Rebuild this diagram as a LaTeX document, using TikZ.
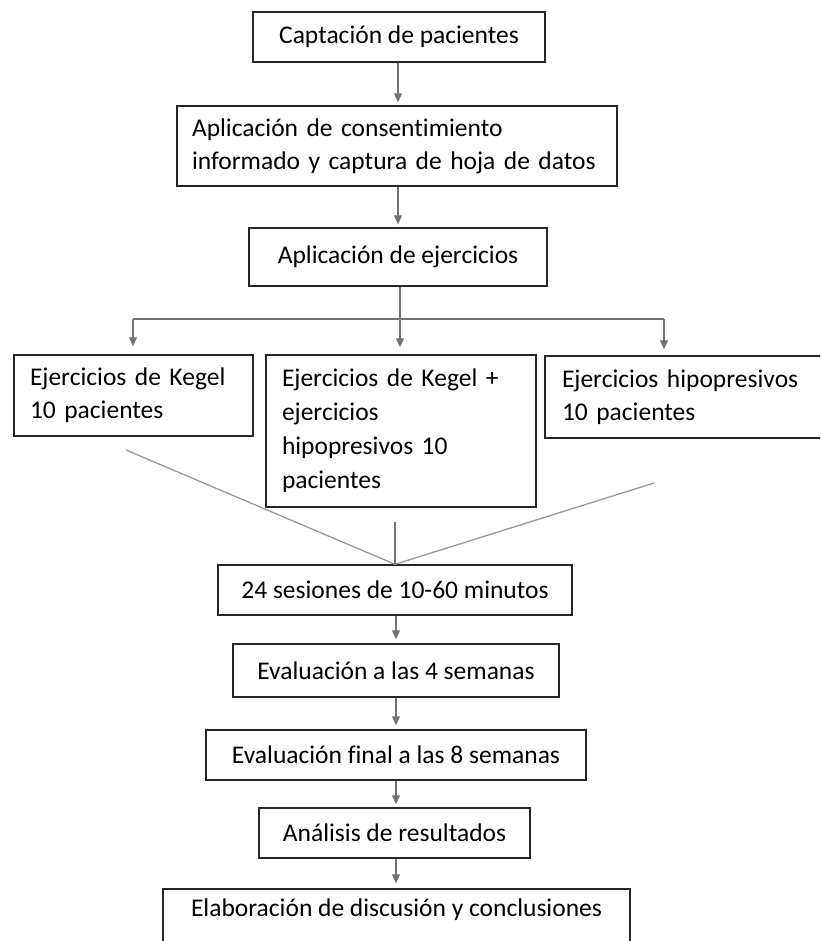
\documentclass[tikz,border=0pt]{standalone}
\usepackage{fontspec}
\setmainfont{Carlito}[RawFeature={-liga;-clig;-calt;-dlig}]
\usetikzlibrary{arrows.meta}
\begin{document}
\begin{tikzpicture}[x=1pt,y=-1pt,
  box/.style={draw=black!85,line width=1.4pt,inner sep=0pt,fill=white,
    font=\fontsize{25.5}{33}\selectfont},
  conn/.style={draw=black!55,line width=1.1pt},
  diag/.style={draw=black!40,line width=1.3pt},
  arr/.style={conn,-{Triangle[width=8pt,length=9pt]}},
  ]
\useasboundingbox (0,0) rectangle (820,941);
\clip (0,0) rectangle (820,941);
\fill[white] (0,0) rectangle (820,941);

\node[box,minimum width=292pt,minimum height=50pt] (b1) at (399,37) {Captación de pacientes};
\node[box,minimum width=440pt,minimum height=80pt,align=left,text width=410pt] (b2) at (397,146)
  {Aplicación de consentimiento\\informado y captura de hoja de datos};
\node[box,minimum width=298pt,minimum height=58pt] (b3) at (398,257) {Aplicación de ejercicios};

\node[box,minimum width=239pt,minimum height=81pt,align=left,text width=207pt] (k1) at (133.5,395.5)
  {Ejercicios de Kegel\\10 pacientes};
\node[box,minimum width=270pt,minimum height=152pt,align=left,text width=238pt,
  font=\fontsize{25.5}{34}\selectfont] (k2) at (401,431)
  {Ejercicios de Kegel +\\ejercicios\\hipopresivos 10\\pacientes};
\node[box,minimum width=300pt,minimum height=82pt,align=left,text width=266pt] (k3) at (695,397)
  {Ejercicios hipopresivos\\10 pacientes};

\node[box,minimum width=354pt,minimum height=50pt] (s1) at (395,590) {24 sesiones de 10-60 minutos};
\node[box,minimum width=326pt,minimum height=53pt] (s2) at (396,670.5) {Evaluación a las 4 semanas};
\node[box,minimum width=380pt,minimum height=50pt] (s3) at (396,755) {Evaluación final a las 8 semanas};
\node[box,minimum width=271pt,minimum height=50pt] (s4) at (394.5,833) {Análisis de resultados};
\node[box,minimum width=467pt,minimum height=71pt] (s5) at (396.5,924.5)
  {\raisebox{8pt}[0pt][0pt]{Elaboración de discusión y conclusiones}};

% top connectors
\draw[arr,shorten >=3pt] (b1.south -| 398,0) -- (b2.north -| 398,0);
\draw[arr,shorten >=3pt] (b2.south -| 398,0) -- (b3.north -| 398,0);

% split
\coordinate (hy) at (400,319);
\coordinate (hl) at (133,319);
\coordinate (hr) at (664,319);
\draw[conn] (b3.south -| hy) -- (hy);
\draw[conn] (hl) -- (hr);
\draw[arr,shorten >=8pt] (hl) -- (hl |- k1.north);
\draw[arr,shorten >=7pt] (hy) -- (hy |- k2.north);
\draw[arr,shorten >=6pt] (hr) -- (hr |- k3.north);

% merge
\coordinate (dl) at (126,450);
\coordinate (dr) at (654,483);
\coordinate (dm) at (395,522);
\draw[diag] (dl) -- (s1.north);
\draw[diag] (dr) -- (s1.north);
\draw[conn] (dm) -- (s1.north);

% bottom chain
\draw[arr,shorten >=4pt] (s1.south -| 396,0) -- (s2.north -| 396,0);
\draw[arr,shorten >=4pt] (s2.south -| 396,0) -- (s3.north -| 396,0);
\draw[arr,shorten >=3pt] (s3.south -| 396,0) -- (s4.north -| 396,0);
\draw[arr,shorten >=5pt] (s4.south -| 396,0) -- (s5.north -| 396,0);
\end{tikzpicture}
\end{document}
